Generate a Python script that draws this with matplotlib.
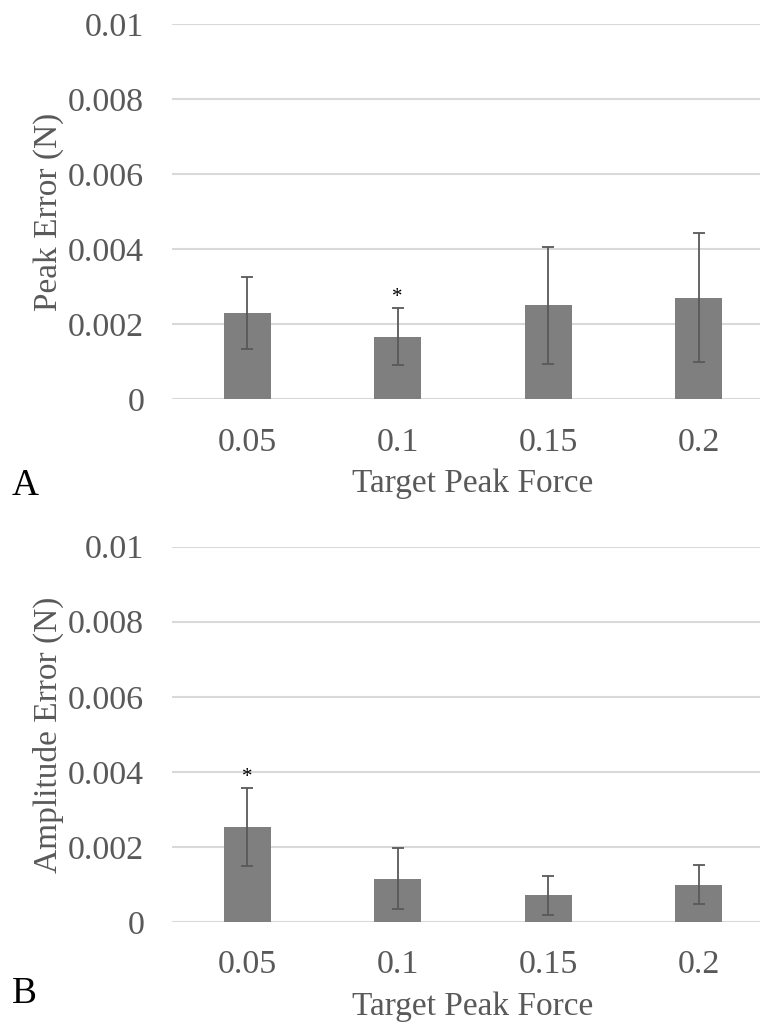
import matplotlib.pyplot as plt
import numpy as np

plt.rcParams["font.family"] = ["Liberation Serif", "DejaVu Serif"]

targets = ["0.05", "0.1", "0.15", "0.2"]

peak_mean = [0.00230, 0.00167, 0.00251, 0.00271]
peak_sd = [0.00096, 0.00076, 0.00156, 0.00172]

amp_mean = [0.00253, 0.00116, 0.00071, 0.00100]
amp_sd = [0.00104, 0.00082, 0.00051, 0.00052]

# index of the bar flagged with an asterisk in each panel
peak_star = 1
amp_star = 0

BAR_COLOR = "#7f7f7f"
ERR_COLOR = "#595959"
GRID_COLOR = "#d9d9d9"
TEXT_COLOR = "#595959"


def draw_panel(ax, means, sds, star, ylabel):
    x = np.arange(len(targets))
    ax.bar(x, means, width=0.31, color=BAR_COLOR, zorder=2)
    ax.errorbar(x, means, yerr=sds, fmt="none", ecolor=ERR_COLOR,
                elinewidth=1.3, capsize=4, capthick=1.3, zorder=3)
    ax.text(x[star], means[star] + sds[star] + 0.00028, "*",
            ha="center", va="center", fontsize=15, color="black")

    ax.set_xlim(-0.5, len(targets) - 0.5)
    ax.set_ylim(0, 0.01)
    ax.set_yticks([0, 0.002, 0.004, 0.006, 0.008, 0.01])
    ax.set_yticklabels(["0", "0.002", "0.004", "0.006", "0.008", "0.01"])
    ax.set_xticks(x)
    ax.set_xticklabels(targets)

    ax.grid(axis="y", color=GRID_COLOR, linewidth=1.5, zorder=0)
    ax.set_axisbelow(True)
    for side in ax.spines.values():
        side.set_visible(False)
    ax.tick_params(length=0, labelsize=24.5, labelcolor=TEXT_COLOR)
    ax.tick_params(axis="x", pad=20)
    ax.tick_params(axis="y", pad=20)

    ax.set_ylabel(ylabel, fontsize=24, color=TEXT_COLOR, labelpad=3)
    ax.set_xlabel("Target Peak Force", fontsize=24, color=TEXT_COLOR,
                  labelpad=8)


fig = plt.figure(figsize=(7.6, 10.22), dpi=100)

ax_a = fig.add_axes([0.2263, 0.6093, 0.792, 0.3669])
draw_panel(ax_a, peak_mean, peak_sd, peak_star, "Peak Error (N)")

ax_b = fig.add_axes([0.2263, 0.0978, 0.792, 0.3673])
draw_panel(ax_b, amp_mean, amp_sd, amp_star, "Amplitude Error (N)")

fig.text(0.015, 1 - 495 / 1022, "A", fontsize=27, color="black")
fig.text(0.015, 1 - 1003 / 1022, "B", fontsize=27, color="black")

fig.savefig("out.png", dpi=100)
